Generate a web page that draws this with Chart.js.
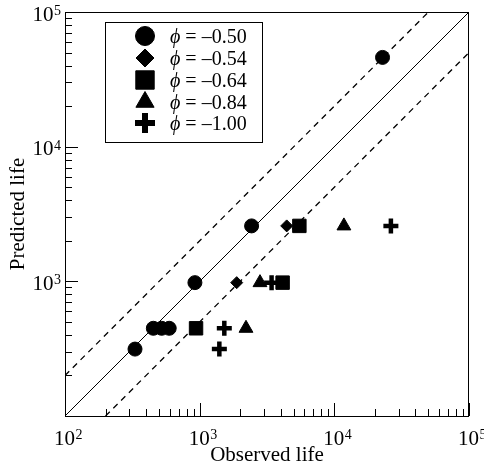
<!DOCTYPE html>
<html>
<head>
<meta charset="utf-8">
<script src="https://cdn.jsdelivr.net/npm/chart.js@4.4.1/dist/chart.umd.min.js"></script>
<style>
html, body { margin: 0; padding: 0; background: #fff; }
#wrap { width: 484px; height: 468px; }
</style>
</head>
<body>
<div id="wrap"><canvas id="Chart_1" width="484" height="468"></canvas></div>
<script>
// observed vs predicted life, one pair of arrays per phi
let phiLabels = ['\u20130.50', '\u20130.54', '\u20130.64', '\u20130.84', '\u20131.00'];
let obs050 = [22800, 2430, 922, 453, 522, 594, 331];
let pred050 = [46000, 2580, 978, 448, 448, 448, 314];
let obs054 = [4430, 1884];
let pred054 = [2580, 978];
let obs064 = [5500, 4130, 940];
let pred064 = [2580, 978, 448];
let obs084 = [11780, 2805, 2208];
let pred084 = [2580, 978, 448];
let obs100 = [26300, 3420, 1524, 1400];
let pred100 = [2580, 978, 448, 314];

// 1:1 line and factor-of-2 band (end points)
let unityObs = [100, 100000], unityPred = [100, 100000];
let upperObs = [100, 50000], upperPred = [200, 100000];
let lowerObs = [200, 100000], lowerPred = [100, 50000];

// axis ticks
let decades = [100, 1000, 10000, 100000];
let xTickSup = ['2', '3', '4', '5'];
let yTickValues = [1000, 10000, 100000];
let yTickSup = ['3', '4', '5'];

const SERIF = '"Liberation Serif", "Times New Roman", serif';
const PHI = '\u03d5';

function pts(xs, ys) { return xs.map((v, i) => ({x: v, y: ys[i]})); }

let styles = [
  {pointStyle: 'circle', radius: 7, legendRadius: 9.5, bw: 1},
  {pointStyle: 'rectRot', radius: 6, legendRadius: 9, bw: 1},
  {pointStyle: 'rect', radius: 9.5, legendRadius: 13, bw: 1},
  {pointStyle: 'triangle', radius: 8, legendRadius: 10.5, bw: 1},
  {pointStyle: 'cross', radius: 7.5, legendRadius: 10, bw: 4.5, legendBw: 6}
];
let series = [pts(obs050, pred050), pts(obs054, pred054), pts(obs064, pred064), pts(obs084, pred084), pts(obs100, pred100)];

let datasets = series.map((d, i) => ({
  label: PHI + ' = ' + phiLabels[i],
  data: d,
  order: 0,
  pointStyle: styles[i].pointStyle,
  pointRadius: styles[i].radius,
  pointHoverRadius: styles[i].radius,
  pointBorderWidth: styles[i].bw,
  backgroundColor: '#000',
  borderColor: '#000'
}));

function refLine(xs, ys, dash, bw) {
  return {
    data: pts(xs, ys), showLine: true, pointRadius: 0, order: 10,
    borderColor: '#000', borderWidth: bw, borderDash: dash, fill: false
  };
}
datasets.push(refLine(unityObs, unityPred, [], 1));
datasets.push(refLine(upperObs, upperPred, [6, 5], 1.3));
datasets.push(refLine(lowerObs, lowerPred, [6, 5], 1.3));

const framePlugin = {
  id: 'frame',
  afterDraw(chart) {
    const {ctx, chartArea: a, scales: {x, y}} = chart;
    ctx.save();
    ctx.strokeStyle = '#000';
    ctx.lineWidth = 1;
    ctx.strokeRect(a.left + 0.5, a.top + 0.5, a.right - a.left - 1, a.bottom - a.top);

    // inward ticks on left and bottom
    ctx.beginPath();
    decades.forEach(d => {
      for (let m = 1; m < 10; m++) {
        const v = d * m;
        if (v > 100000) break;
        const len = m === 1 ? 13 : 7;
        const px = Math.round(x.getPixelForValue(v)) + 0.5;
        ctx.moveTo(px, a.bottom);
        ctx.lineTo(px, a.bottom - len);
        const py = Math.round(y.getPixelForValue(v)) + 0.5;
        ctx.moveTo(a.left, py);
        ctx.lineTo(a.left + len, py);
      }
    });
    ctx.stroke();

    // tick labels 10^n
    ctx.fillStyle = '#000';
    ctx.textBaseline = 'alphabetic';
    const big = '21px ' + SERIF, small = '14px ' + SERIF;
    decades.forEach((v, i) => {
      const px = x.getPixelForValue(v);
      ctx.font = big; ctx.textAlign = 'left';
      const w = ctx.measureText('10').width;
      ctx.fillText('10', px - 11, a.bottom + 29);
      ctx.font = small;
      ctx.fillText(xTickSup[i], px - 11 + w + 0.5, a.bottom + 23);
    });
    yTickValues.forEach((v, i) => {
      const py = y.getPixelForValue(v);
      ctx.font = big; ctx.textAlign = 'right';
      ctx.fillText('10', a.left - 11.5, py + 8.5);
      ctx.font = small; ctx.textAlign = 'left';
      ctx.fillText(yTickSup[i], a.left - 11, py + 3);
    });

    // legend box
    const lx = 105, ly = 22, lw = 157, lh = 120;
    ctx.fillStyle = '#fff';
    ctx.fillRect(lx, ly, lw, lh);
    ctx.strokeRect(lx + 0.5, ly + 0.5, lw, lh);
    const rowY = [36, 58, 80, 102, 123];
    datasets.slice(0, 5).forEach((ds, i) => {
      const st = styles[i];
      ctx.fillStyle = '#000';
      ctx.strokeStyle = '#000';
      ctx.lineWidth = st.legendBw || st.bw;
      Chart.helpers.drawPoint(ctx, {
        pointStyle: st.pointStyle, radius: st.legendRadius, rotation: 0,
        borderWidth: st.legendBw || st.bw
      }, 145, rowY[i]);
      ctx.textAlign = 'left';
      ctx.font = 'italic 20px ' + SERIF;
      ctx.fillText(PHI, 170, rowY[i] + 7);
      const w = ctx.measureText(PHI).width;
      ctx.font = '20px ' + SERIF;
      ctx.fillText(' = ' + phiLabels[i], 170 + w, rowY[i] + 7);
    });
    ctx.restore();
  }
};

let cxt = document.getElementById('Chart_1');
let grafico = new Chart(cxt, {
  type: 'scatter',
  data: {datasets: datasets},
  options: {
    responsive: false,
    devicePixelRatio: 1,
    animation: false,
    layout: {padding: {top: 12, right: 15, left: 0, bottom: 0}},
    plugins: {legend: {display: false}, tooltip: {enabled: false}},
    scales: {
      x: {
        type: 'logarithmic', min: 100, max: 100000,
        ticks: {display: false}, grid: {display: false}, border: {display: false},
        title: {display: true, text: 'Observed life', color: '#000',
                font: {family: SERIF, size: 21}, padding: {top: 0, bottom: 0}},
        afterFit: s => { s.height = 52; }
      },
      y: {
        type: 'logarithmic', min: 100, max: 100000,
        ticks: {display: false}, grid: {display: false}, border: {display: false},
        title: {display: true, text: 'Predicted life', color: '#000',
                font: {family: SERIF, size: 21}, padding: {top: 6, bottom: 0}},
        afterFit: s => { s.width = 65; }
      }
    }
  },
  plugins: [framePlugin]
});
</script>
</body>
</html>
